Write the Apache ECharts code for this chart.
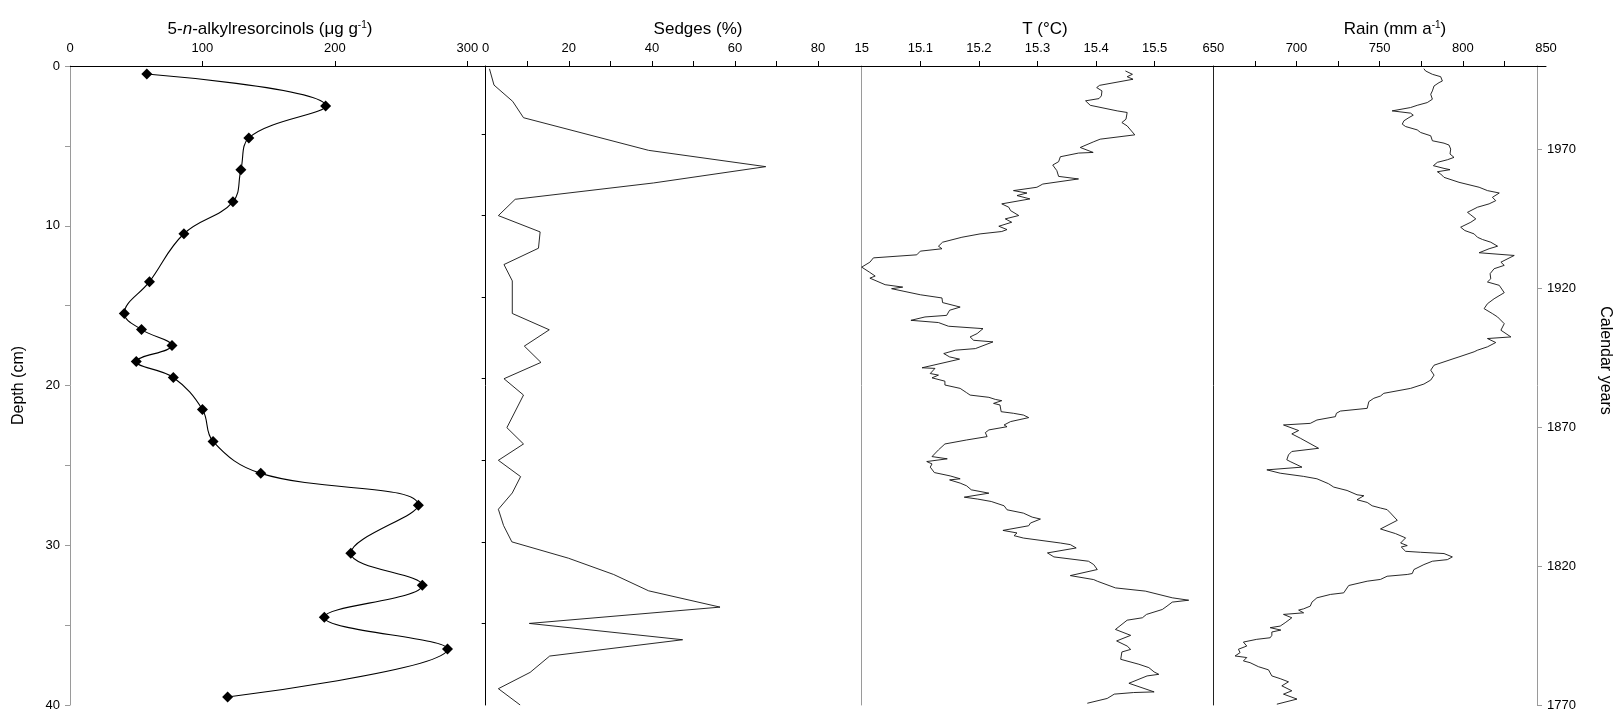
<!DOCTYPE html>
<html><head><meta charset="utf-8">
<script src="https://cdn.jsdelivr.net/npm/echarts@6/dist/echarts.min.js"></script>
<style>html,body{margin:0;padding:0;background:#fff}#c{width:1621px;height:712px}</style>
</head><body><div id="c"></div>
<script>
// ---- data ----
const alkDepth = [0.5,2.5,4.5,6.5,8.5,10.5,13.5,15.5,16.5,17.5,18.5,19.5,21.5,23.5,25.5,27.5,30.5,32.5,34.5,36.5,39.5];
const alkValue = [58,193,135,129,123,86,60,41,54,77,50,78,100,108,144,263,212,266,192,285,119];

const sedgeDepth = [1,2,3,4,6,7,8,9,10,11,12,13,14,16,17,18,19,20,21,23,24,25,26,27,28,29,30,31,32,33,34,35,36,37,38,39,40];
const sedgeValue = [0.9,2.0,6.5,9.1,39.2,67.4,40.4,7.1,3.05,13.1,12.7,4.4,6.4,6.4,15.3,9.3,13.3,4.4,9.1,5.1,9.1,3.05,8.4,6.4,3.05,4.3,6.3,19.9,30.8,39.2,56.4,10.5,47.4,15.4,10.7,3.05,8.3];

const tDepth = [0.31,0.52,0.67,0.83,1.21,1.35,1.56,1.87,2.04,2.18,2.46,2.81,2.91,3.33,3.54,3.75,4.31,4.58,4.74,5.10,5.41,5.45,5.68,5.99,6.20,6.55,6.91,7.07,7.39,7.59,7.80,7.95,8.11,8.32,8.63,8.84,9.05,9.36,9.57,9.78,10.03,10.24,10.36,10.51,10.72,11.03,11.28,11.44,11.59,11.82,12.01,12.28,12.59,12.90,13.15,13.28,13.69,13.84,13.94,14.32,14.52,14.81,15.09,15.29,15.61,15.71,15.92,16.06,16.29,16.44,16.75,16.96,17.17,17.27,17.69,17.79,18.00,18.21,18.35,18.89,18.93,19.25,19.35,19.52,19.73,19.97,20.08,20.18,20.45,20.60,20.74,20.87,20.95,21.12,21.22,21.64,21.74,21.85,22.01,22.26,22.47,22.58,22.78,22.95,23.20,23.41,23.66,24.03,24.45,24.59,24.76,24.91,25.11,25.45,25.66,25.84,25.91,26.11,26.28,26.53,26.74,26.99,27.11,27.26,27.53,27.78,27.99,28.24,28.36,28.61,28.78,29.07,29.23,29.40,29.55,29.86,29.96,30.17,30.48,30.73,31.00,31.21,31.52,31.90,32.15,32.25,32.67,32.87,33.29,33.44,33.56,33.81,34.02,34.33,34.54,34.69,35.27,35.64,35.99,36.31,36.52,36.68,37.14,37.45,37.66,37.93,38.08,38.18,38.64,39.18,39.22,39.32,39.59,39.89];
const tValue = [15.450,15.462,15.453,15.463,15.406,15.401,15.410,15.409,15.405,15.382,15.390,15.436,15.453,15.451,15.444,15.453,15.466,15.407,15.396,15.373,15.395,15.370,15.339,15.336,15.326,15.333,15.336,15.370,15.309,15.299,15.259,15.282,15.265,15.287,15.239,15.251,15.254,15.268,15.245,15.256,15.234,15.248,15.239,15.202,15.171,15.138,15.131,15.137,15.100,15.094,15.020,15.014,15.000,15.013,15.023,15.014,15.040,15.070,15.051,15.100,15.137,15.138,15.168,15.150,15.145,15.108,15.084,15.131,15.148,15.207,15.197,15.185,15.191,15.224,15.194,15.160,15.140,15.150,15.167,15.103,15.125,15.117,15.131,15.120,15.142,15.142,15.145,15.168,15.179,15.185,15.217,15.228,15.239,15.225,15.236,15.238,15.259,15.276,15.285,15.254,15.243,15.248,15.217,15.211,15.214,15.179,15.142,15.131,15.120,15.146,15.111,15.120,15.117,15.124,15.151,15.168,15.150,15.168,15.179,15.187,15.217,15.175,15.198,15.221,15.243,15.248,15.276,15.291,15.305,15.288,15.285,15.241,15.265,15.260,15.276,15.339,15.356,15.366,15.317,15.328,15.387,15.396,15.402,15.356,15.396,15.402,15.433,15.484,15.530,15.558,15.530,15.521,15.513,15.486,15.479,15.453,15.433,15.459,15.435,15.453,15.459,15.444,15.442,15.473,15.490,15.499,15.507,15.487,15.456,15.499,15.464,15.431,15.419,15.385];

const rainDepth = [0.17,0.31,0.52,0.67,0.94,1.04,1.25,1.56,1.77,1.87,2.08,2.29,2.46,2.60,2.81,2.95,3.08,3.23,3.43,3.64,3.79,4.00,4.16,4.37,4.68,4.83,4.95,5.20,5.51,5.72,5.87,6.03,6.24,6.41,6.49,6.62,6.76,6.97,7.28,7.59,7.80,7.95,8.22,8.43,8.63,8.84,9.16,9.32,9.57,9.78,10.09,10.30,10.51,10.72,10.86,11.03,11.28,11.44,11.69,11.86,12.28,12.48,12.69,13.00,13.32,13.52,13.73,14.19,14.57,14.88,15.19,15.50,15.71,16.13,16.54,16.96,17.06,17.31,17.58,17.79,17.89,18.21,18.31,18.73,19.04,19.35,19.66,19.91,20.18,20.49,20.66,20.80,21.01,21.43,21.60,21.74,21.95,22.16,22.37,22.47,22.82,23.03,23.30,23.93,24.13,24.34,24.65,24.76,25.11,25.28,25.49,25.69,25.84,26.15,26.36,26.57,26.84,26.90,27.15,27.32,27.53,27.67,27.77,27.98,28.44,28.98,29.27,29.54,29.86,30.02,30.11,30.38,30.44,30.52,30.73,30.90,31.00,31.21,31.52,31.77,31.83,31.94,32.14,32.25,32.52,32.98,33.08,33.29,33.56,33.81,33.98,34.06,34.23,34.33,34.54,34.85,35.06,35.16,35.31,35.43,35.64,35.79,35.89,36.06,36.31,36.51,36.72,36.93,37.03,37.24,37.35,37.60,37.80,38.18,38.35,38.55,38.80,39.11,39.32,39.63,39.95];
const rainValue = [776.6,777.6,781.7,786.7,787.7,785.7,782.7,781.7,780.7,779.6,781.7,778.6,772.6,768.6,757.5,768.6,770.2,767.6,764.6,763.6,765.6,772.6,774.6,780.7,781.7,788.7,791.7,792.7,792.3,794.7,790.7,784.7,782.3,788.7,792.3,784.7,786.7,788.7,797.7,809.8,814.8,821.9,817.8,819.8,815.8,808.8,802.8,804.8,807.8,804.8,798.7,801.2,806.8,808.8,811.8,816.8,820.9,815.8,809.8,830.9,822.9,824.9,818.8,816.4,816.8,814.8,821.9,824.9,818.8,814.8,812.8,817.8,820.9,824.9,822.9,828.9,814.8,819.8,814.8,808.8,806.8,797.7,794.7,782.7,780.7,782.7,780.7,776.6,768.6,752.5,750.5,746.5,743.5,742.5,726.4,724.0,723.4,712.3,708.3,692.2,701.3,697.2,702.3,713.3,697.2,695.2,694.2,696.2,703.3,682.2,690.2,704.3,712.3,719.3,722.4,730.4,736.4,740.5,736.4,742.5,745.5,750.5,754.5,756.5,760.6,750.5,759.5,765.6,762.6,766.6,763.0,765.6,774.6,788.7,793.7,790.7,781.7,776.6,770.6,769.6,766.6,754.5,750.5,742.5,731.4,728.4,720.4,712.3,709.3,708.3,704.3,701.3,704.3,692.2,697.2,693.2,690.2,684.2,690.6,685.2,685.2,684.2,676.1,668.1,670.1,665.1,666.1,663.1,670.1,668.1,672.1,677.1,683.2,685.2,690.2,695.2,691.2,697.2,692.2,700.3,688.2];

// ---- tick labels ----
const depthLabels = [0,10,20,30,40];
const yearLabels = [1770,1820,1870,1920,1970];
const alkLabels = [0,100,200,300];
const alkTicks = [100,200,300];
const sedgeLabels = [0,20,40,60,80];
const sedgeTicks = [10,20,30,40,50,60,70,80];
const sedgeDepthTicks = [5,10,15,20,25,30,35];
const tLabels = [15,15.1,15.2,15.3,15.4,15.5];
const tTicks = [15.1,15.2,15.3,15.4,15.5];
const rainLabels = [650,700,750,800,850];
const rainTicks = [675,700,725,750,775,800,825];

// ---- chart ----
const FONT = 'Liberation Sans, Arial, sans-serif';
const BLACK = '#000';
const GRAY = '#9a9a9a';
const chart = echarts.init(document.getElementById('c'), null, {renderer: 'canvas'});
const TOP = 66, BOTTOM = 7;
const plain = v => String(Math.round(v * 10) / 10);

function topAxis(grid, min, max, labels, ticks) {
  return {
    type: 'value', gridIndex: grid, position: 'top', min: min, max: max,
    axisLine: {show: true, lineStyle: {color: BLACK, width: 1}},
    axisTick: {show: true, length: 5, customValues: ticks, lineStyle: {color: BLACK}},
    axisLabel: {show: true, customValues: labels, formatter: plain, margin: 11, fontSize: 13, fontFamily: FONT, color: BLACK},
    splitLine: {show: false}
  };
}
function depthAxis(grid, min, lineColor, showLine, ticks) {
  return {
    type: 'value', gridIndex: grid, min: min, max: 40, inverse: true, position: 'left',
    axisLine: {show: showLine, lineStyle: {color: lineColor, width: 1}},
    axisTick: ticks ? {show: true, length: 4, customValues: ticks, lineStyle: {color: lineColor}} : {show: false},
    axisLabel: {show: false}, splitLine: {show: false}
  };
}

const pairs = (xs, ys) => xs.map((v, i) => [v, ys[i]]);

const option = {
  animation: false,
  backgroundColor: '#fff',
  grid: [
    {left: 70, right: 75, top: TOP, bottom: BOTTOM},
    {left: 70, width: 415.7, top: TOP, bottom: BOTTOM},
    {left: 485.7, width: 376, top: TOP, bottom: BOTTOM},
    {left: 861.7, width: 351.6, top: TOP, bottom: BOTTOM},
    {left: 1213.3, width: 332.7, top: TOP, bottom: BOTTOM}
  ],
  xAxis: [
    {type: 'value', gridIndex: 0, position: 'bottom', min: 0, max: 1,
     axisLine: {show: true, lineStyle: {color: GRAY}}, axisTick: {show: false},
     axisLabel: {show: false}, splitLine: {show: false}},
    topAxis(1, 0, 313.85, alkLabels, alkTicks),
    topAxis(2, 0, 90.5, sedgeLabels, sedgeTicks),
    topAxis(3, 15, 15.6, tLabels, tTicks),
    topAxis(4, 650, 850, rainLabels, rainTicks)
  ],
  yAxis: [
    {type: 'value', gridIndex: 0, min: 0, max: 40, inverse: true, interval: 5, position: 'left',
     name: 'Depth (cm)', nameLocation: 'middle', nameGap: 43, nameRotate: 90,
     nameTextStyle: {fontSize: 16, fontFamily: FONT, color: BLACK},
     axisLine: {show: true, lineStyle: {color: GRAY}},
     axisTick: {show: true, length: 5, lineStyle: {color: GRAY}},
     axisLabel: {customValues: depthLabels, formatter: plain, margin: 10, fontSize: 13, fontFamily: FONT, color: BLACK},
     splitLine: {show: false}},
    {type: 'value', gridIndex: 0, min: 1770, max: 2000, position: 'right',
     name: 'Calendar years', nameLocation: 'middle', nameGap: 60, nameRotate: -90,
     nameTextStyle: {fontSize: 16, fontFamily: FONT, color: BLACK, padding: [0, 50, 0, 0]},
     axisLine: {show: true, lineStyle: {color: GRAY}},
     axisTick: {show: true, length: 5, customValues: yearLabels, lineStyle: {color: GRAY}},
     axisLabel: {customValues: yearLabels, formatter: plain, margin: 10, fontSize: 13, fontFamily: FONT, color: BLACK},
     splitLine: {show: false}},
    depthAxis(1, 0, BLACK, false, null),
    depthAxis(2, 0.83, BLACK, true, sedgeDepthTicks),
    depthAxis(3, 0, GRAY, true, null),
    depthAxis(4, 0, '#222', true, null)
  ],
  graphic: [
    {type: 'text', x: 270, y: 29, style: {text: '5-{i|n}-alkylresorcinols (μg g{sup|-1})', align: 'center', verticalAlign: 'middle',
      font: '17px ' + FONT, fill: BLACK,
      rich: {i: {fontStyle: 'italic', fontSize: 17, fontFamily: FONT, fill: BLACK},
             sup: {fontSize: 10, fontFamily: FONT, verticalAlign: 'top', fill: BLACK}}}},
    {type: 'text', x: 698, y: 29, style: {text: 'Sedges (%)', align: 'center', verticalAlign: 'middle', font: '17px ' + FONT, fill: BLACK}},
    {type: 'text', x: 1045, y: 29, style: {text: 'T (°C)', align: 'center', verticalAlign: 'middle', font: '17px ' + FONT, fill: BLACK}},
    {type: 'text', x: 1395, y: 29, style: {text: 'Rain (mm a{sup|-1})', align: 'center', verticalAlign: 'middle',
      font: '17px ' + FONT, fill: BLACK,
      rich: {sup: {fontSize: 10, fontFamily: FONT, verticalAlign: 'top', fill: BLACK}}}}
  ],
  series: [
    {type: 'line', xAxisIndex: 1, yAxisIndex: 2, data: pairs(alkValue, alkDepth),
     smooth: 0.4, symbol: 'diamond', symbolSize: 11, showSymbol: true,
     itemStyle: {color: BLACK}, lineStyle: {color: BLACK, width: 1.1}, z: 5},
    {type: 'line', xAxisIndex: 2, yAxisIndex: 3, data: pairs(sedgeValue, sedgeDepth),
     symbol: 'none', lineStyle: {color: '#111', width: 0.9}},
    {type: 'line', xAxisIndex: 3, yAxisIndex: 4, data: pairs(tValue, tDepth),
     symbol: 'none', lineStyle: {color: '#111', width: 0.9}},
    {type: 'line', xAxisIndex: 4, yAxisIndex: 5, data: pairs(rainValue, rainDepth),
     symbol: 'none', lineStyle: {color: '#111', width: 0.9}}
  ]
};
chart.setOption(option);
</script>
</body></html>
